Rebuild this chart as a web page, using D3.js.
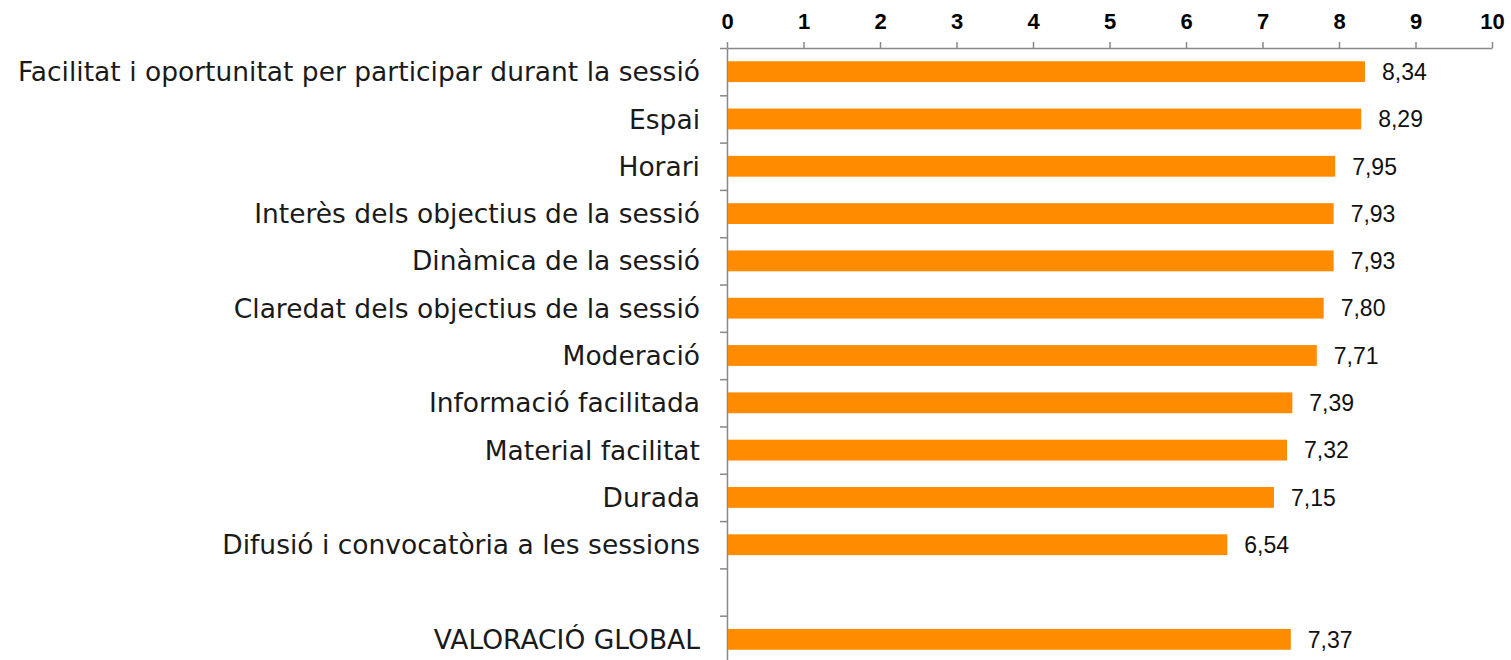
<!DOCTYPE html>
<html>
<head>
<meta charset="utf-8">
<script src="https://cdn.jsdelivr.net/npm/d3@7"></script>
<style>
  body { margin: 0; background: #fff; }
  .cat { font-family: 'DejaVu Sans', sans-serif; font-size: 26.5px; fill: #1a1a1a; }
  .value { font-family: 'Liberation Sans', Arial, sans-serif; font-size: 23px; fill: #111; }
  .xAxis text { font-family: 'Liberation Sans', Arial, sans-serif; font-weight: bold; font-size: 22px; fill: #000; }
  .domain, .tick line { stroke: #888; stroke-width: 1.5; }
</style>
</head>
<body>
<svg class="chart" width="1511" height="660"></svg>
<script>
// categories (blank entry is the gap before the global score)
const categories = [
  'Facilitat i oportunitat per participar durant la sessió',
  'Espai',
  'Horari',
  'Interès dels objectius de la sessió',
  'Dinàmica de la sessió',
  'Claredat dels objectius de la sessió',
  'Moderació',
  'Informació facilitada',
  'Material facilitat',
  'Durada',
  'Difusió i convocatòria a les sessions',
  '',
  'VALORACIÓ GLOBAL'
];
const values = [8.34, 8.29, 7.95, 7.93, 7.93, 7.80, 7.71, 7.39, 7.32, 7.15, 6.54, null, 7.37];
const xTicks = [0, 1, 2, 3, 4, 5, 6, 7, 8, 9, 10];

const data = categories.map((c, i) => ({ key: i, label: c, value: values[i] }));

const svg = d3.select('.chart');
const plotLeft = 727, plotRight = 1492, plotTop = 48, plotBottom = 663;

const xScale = d3.scaleLinear().domain([0, 10]).range([plotLeft, plotRight]);
const yScale = d3.scaleBand()
  .domain(data.map(d => d.key))
  .range([plotTop, plotBottom])
  .paddingInner(0.56)
  .paddingOuter(0.28);

// top axis
svg.append('g')
  .attr('class', 'xAxis')
  .attr('transform', `translate(0, ${plotTop})`)
  .call(d3.axisTop(xScale).tickValues(xTicks).tickSize(6).tickSizeOuter(0).tickPadding(13));

// left axis: ticks between categories
const yBoundary = d3.scaleLinear().domain([0, categories.length]).range([plotTop, plotBottom]);
svg.append('g')
  .attr('class', 'yAxis')
  .attr('transform', `translate(${plotLeft}, 0)`)
  .call(d3.axisLeft(yBoundary).tickValues(d3.range(0, categories.length + 1)).tickSize(7).tickSizeOuter(0).tickFormat(''));

// bars
const bars = data.filter(d => d.value !== null);
svg.append('g').selectAll('rect')
  .data(bars)
  .enter()
  .append('rect')
  .attr('x', xScale(0) + 1)
  .attr('y', d => yScale(d.key))
  .attr('width', d => xScale(d.value) - xScale(0) - 1)
  .attr('height', yScale.bandwidth())
  .attr('fill', '#ff8c00');

svg.append('g').selectAll('text')
  .data(bars)
  .enter()
  .append('text')
  .attr('class', 'value')
  .attr('x', d => xScale(d.value) + 17)
  .attr('y', d => yScale(d.key) + yScale.bandwidth() / 2)
  .attr('dy', '0.36em')
  .text(d => d.value.toFixed(2).replace('.', ','));

// category labels
svg.append('g').selectAll('text')
  .data(data.filter(d => d.label))
  .enter()
  .append('text')
  .attr('class', 'cat')
  .attr('x', 700)
  .attr('y', d => yScale(d.key) + yScale.bandwidth() / 2)
  .attr('dy', '0.36em')
  .attr('text-anchor', 'end')
  .text(d => d.label);
</script>
</body>
</html>
